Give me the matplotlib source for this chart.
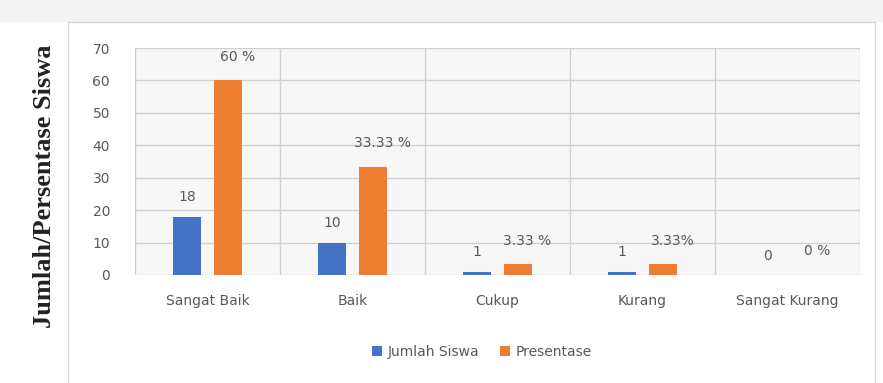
import numpy as np
import matplotlib
matplotlib.use("Agg")
import matplotlib.pyplot as plt
from matplotlib.patches import Rectangle

categories = ["Sangat Baik", "Baik", "Cukup", "Kurang", "Sangat Kurang"]
jumlah_siswa = [18, 10, 1, 1, 0]
presentase = [60, 33.33, 3.33, 3.33, 0]
presentase_labels = ["60 %", "33.33 %", "3.33 %", "3.33%", "0 %"]
yticks = [0, 10, 20, 30, 40, 50, 60, 70]

BLUE = "#4472C4"
ORANGE = "#ED7D31"
TEXT = "#595959"

fig = plt.figure(figsize=(8.83, 3.83), dpi=100)

# light band at the top and the chart frame (behind the axes)
fig.patches.append(Rectangle((0, 1 - 22 / 383), 1, 22 / 383, transform=fig.transFigure,
                             facecolor="#f3f3f3", edgecolor="none", zorder=-2))
fig.patches.append(Rectangle((68 / 883, -0.01), (875 - 68) / 883, 1 - 22 / 383 + 0.01,
                             transform=fig.transFigure, facecolor="white",
                             edgecolor="#d9d9d9", linewidth=1.0, zorder=-1))

ax = fig.add_axes([135 / 883, 108 / 383, 725 / 883, 227 / 383])
ax.set_facecolor("#f7f7f7")

x = np.arange(len(categories))
w = 0.195
off = 0.14
b1 = ax.bar(x - off, jumlah_siswa, w, color=BLUE, label="Jumlah Siswa", zorder=3)
b2 = ax.bar(x + off, presentase, w, color=ORANGE, label="Presentase", zorder=3)

for rect, v in zip(b1, jumlah_siswa):
    ax.annotate(str(v), (rect.get_x() + rect.get_width() / 2, rect.get_height()),
                xytext=(0, 9), textcoords="offset points", ha="center", va="bottom",
                fontsize=10, color=TEXT)
for rect, lab in zip(b2, presentase_labels):
    ax.annotate(lab, (rect.get_x() + rect.get_width() / 2, rect.get_height()),
                xytext=(7, 12), textcoords="offset points", ha="center", va="bottom",
                fontsize=10, color=TEXT)

ax.set_xlim(-0.5, len(categories) - 0.5)
ax.set_ylim(0, 70)
ax.set_yticks(yticks)
ax.set_xticks(x)
ax.set_xticklabels(categories)
ax.tick_params(axis="both", length=0, labelsize=10, colors=TEXT)
ax.tick_params(axis="y", pad=18)
ax.tick_params(axis="x", pad=14)

# gridlines: horizontal at ticks, vertical at category boundaries
for y in yticks:
    ax.axhline(y, color="#d0d0d0", linewidth=1.0, zorder=1)
for b in np.arange(-0.5, len(categories), 1.0):
    ax.axvline(b, color="#d0d0d0", linewidth=1.0, zorder=1)
for s in ax.spines.values():
    s.set_visible(False)

fig.text(45 / 883, 0.515, "Jumlah/Persentase Siswa", rotation=90, ha="center", va="center",
         fontsize=19, fontweight="bold", family="Liberation Serif", color="#222222")

fig.legend(handles=[b1, b2], labels=["Jumlah Siswa", "Presentase"], loc="center",
           bbox_to_anchor=(482 / 883, 1 - 352 / 383), ncol=2, frameon=False,
           fontsize=10, labelcolor=TEXT, handlelength=0.7, handleheight=0.7,
           columnspacing=1.5, handletextpad=0.4)

fig.savefig("out.png", dpi=100)
